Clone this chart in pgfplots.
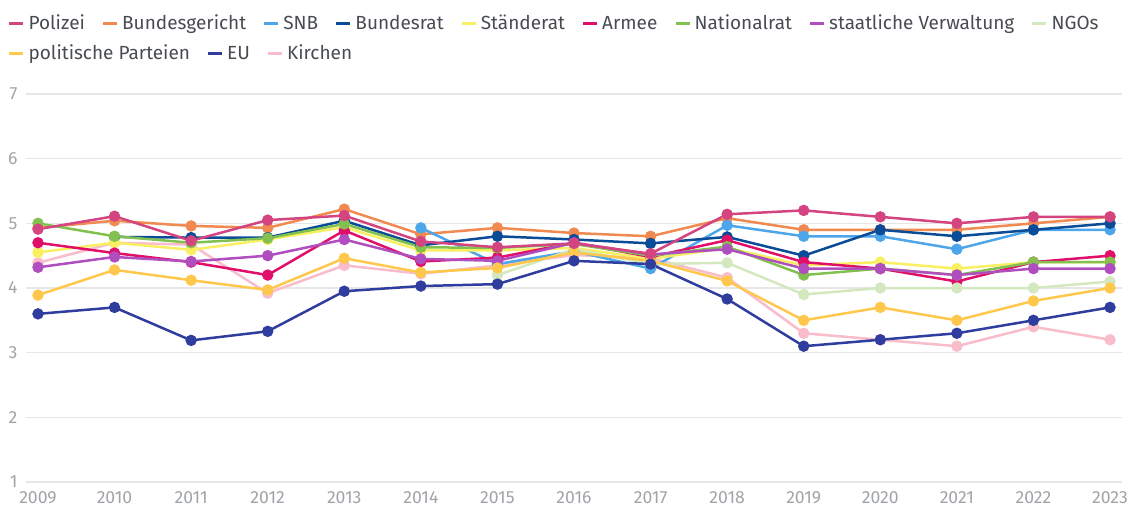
\documentclass[border=0pt]{standalone}
\usepackage{fontspec}
\setmainfont{Fira Sans}
\usepackage{pgfplots}
\usepackage{pgfplotstable}
\pgfplotsset{compat=1.18}

\definecolor{cPol}{RGB}{212,68,128}
\definecolor{cBger}{RGB}{240,138,80}
\definecolor{cSNB}{RGB}{77,166,234}
\definecolor{cBrat}{RGB}{10,76,151}
\definecolor{cStr}{RGB}{248,240,96}
\definecolor{cArm}{RGB}{224,16,106}
\definecolor{cNR}{RGB}{130,192,80}
\definecolor{cSV}{RGB}{176,78,192}
\definecolor{cNGO}{RGB}{212,232,192}
\definecolor{cPP}{RGB}{255,200,76}
\definecolor{cEU}{RGB}{47,61,158}
\definecolor{cKi}{RGB}{248,188,203}
\definecolor{legtext}{RGB}{72,76,82}
\definecolor{ticktext}{RGB}{160,164,168}
\definecolor{gridc}{RGB}{230,230,230}

\pgfplotstableread{
year Pol  Bger SNB  Brat Str  Arm  NR   SV   NGO  PP   EU   Ki
2009 4.91 4.93 nan  nan  4.55 4.70 5.00 4.32 nan  3.89 3.60 4.39
2010 5.11 5.04 nan  4.79 4.70 4.54 4.80 4.48 nan  4.28 3.70 4.70
2011 4.73 4.96 nan  4.78 4.59 4.40 4.70 4.41 nan  4.12 3.19 4.67
2012 5.05 4.93 nan  4.78 4.75 4.20 4.77 4.50 nan  3.97 3.33 3.92
2013 5.12 5.22 nan  5.04 4.94 4.89 4.99 4.75 nan  4.46 3.95 4.35
2014 4.72 4.83 4.93 4.66 4.58 4.41 4.63 4.45 nan  4.24 4.03 4.22
2015 4.63 4.93 4.37 4.80 4.58 4.47 4.62 4.42 4.20 4.31 4.06 4.35
2016 4.69 4.85 4.57 4.75 4.62 4.70 4.68 4.70 4.60 4.55 4.42 4.51
2017 4.53 4.80 4.30 4.69 4.45 4.48 4.50 4.52 4.37 4.42 4.37 4.46
2018 5.14 5.08 4.97 4.79 4.62 4.74 4.64 4.60 4.39 4.11 3.83 4.16
2019 5.20 4.90 4.80 4.50 4.35 4.40 4.20 4.30 3.90 3.50 3.10 3.30
2020 5.10 4.90 4.80 4.90 4.40 4.30 4.30 4.30 4.00 3.70 3.20 3.20
2021 5.00 4.90 4.60 4.80 4.30 4.10 4.20 4.20 4.00 3.50 3.30 3.10
2022 5.10 5.00 4.90 4.90 4.40 4.40 4.40 4.30 4.00 3.80 3.50 3.40
2023 5.10 5.10 4.90 5.00 4.40 4.50 4.40 4.30 4.10 4.00 3.70 3.20
}\datatable

\pgfplotsset{
  ser/.style={color=#1, line width=1.25pt, mark=*, mark size=2.2pt,
    mark options={solid, fill=#1, draw=none}},
  legimg/.style={legend image code/.code={\draw[#1, line width=1.5pt] (0pt,0pt) -- (7pt,0pt);}},
  legax/.style={scale only axis, width=547.5pt, height=194pt, at={(0,0)}, anchor=south west,
    xmin=0, xmax=1, ymin=0, ymax=1, hide axis,
    legend columns=-1,
    legend style={draw=none, fill=none, anchor=west, inner sep=0pt, outer sep=0pt,
      font=\fontsize{9.5}{11}\selectfont, text=legtext,
      nodes={inner sep=1.8pt},
      /tikz/every even column/.append style={column sep=6.5pt}},
  },
}

\begin{document}
\begin{tikzpicture}
\begin{axis}[
  scale only axis, width=547.5pt, height=194pt, at={(0,0)}, anchor=south west,
  xmin=2008.85, xmax=2023.15, ymin=1, ymax=7,
  axis line style={draw=none}, major tick length=0pt,
  ymajorgrids, grid style={color=gridc, line width=0.6pt},
  xtick={2009,2010,...,2023}, ytick={1,2,...,7},
  /pgf/number format/assume math mode=true,
  /pgf/number format/1000 sep={},
  ticklabel style={font=\fontsize{8.8}{10}\selectfont, text=ticktext},
  xticklabel style={yshift=-1pt},
  yticklabel style={anchor=east, xshift=-1pt},
  clip=false,
]
\addplot[ser=cKi]   table[x=year, y=Ki]   {\datatable};
\addplot[ser=cBger] table[x=year, y=Bger] {\datatable};
\addplot[ser=cSNB]  table[x=year, y=SNB]  {\datatable};
\addplot[ser=cBrat] table[x=year, y=Brat] {\datatable};
\addplot[ser=cStr]  table[x=year, y=Str]  {\datatable};
\addplot[ser=cArm]  table[x=year, y=Arm]  {\datatable};
\addplot[ser=cNR]   table[x=year, y=NR]   {\datatable};
\addplot[ser=cNGO]  table[x=year, y=NGO]  {\datatable};
\addplot[ser=cSV]   table[x=year, y=SV]   {\datatable};
\addplot[ser=cPP]   table[x=year, y=PP]   {\datatable};
\addplot[ser=cEU]   table[x=year, y=EU]   {\datatable};
\addplot[ser=cPol]  table[x=year, y=Pol]  {\datatable};
\end{axis}

\begin{axis}[legax, legend style={at={(-0.0169,1.1804)}}]
\addlegendimage{legimg=cPol}\addlegendentry{Polizei}
\addlegendimage{legimg=cBger}\addlegendentry{Bundesgericht}
\addlegendimage{legimg=cSNB}\addlegendentry{SNB}
\addlegendimage{legimg=cBrat}\addlegendentry{Bundesrat}
\addlegendimage{legimg=cStr}\addlegendentry{Ständerat}
\addlegendimage{legimg=cArm}\addlegendentry{Armee}
\addlegendimage{legimg=cNR}\addlegendentry{Nationalrat}
\addlegendimage{legimg=cSV}\addlegendentry{staatliche Verwaltung}
\addlegendimage{legimg=cNGO}\addlegendentry{NGOs}
\end{axis}

\begin{axis}[legax, legend style={at={(-0.0169,1.1031)}}]
\addlegendimage{legimg=cPP}\addlegendentry{politische Parteien}
\addlegendimage{legimg=cEU}\addlegendentry{EU}
\addlegendimage{legimg=cKi}\addlegendentry{Kirchen}
\end{axis}

\pgfresetboundingbox
\path[use as bounding box] (-13.25pt,-13pt) rectangle (551.75pt,241pt);
\end{tikzpicture}
\end{document}
